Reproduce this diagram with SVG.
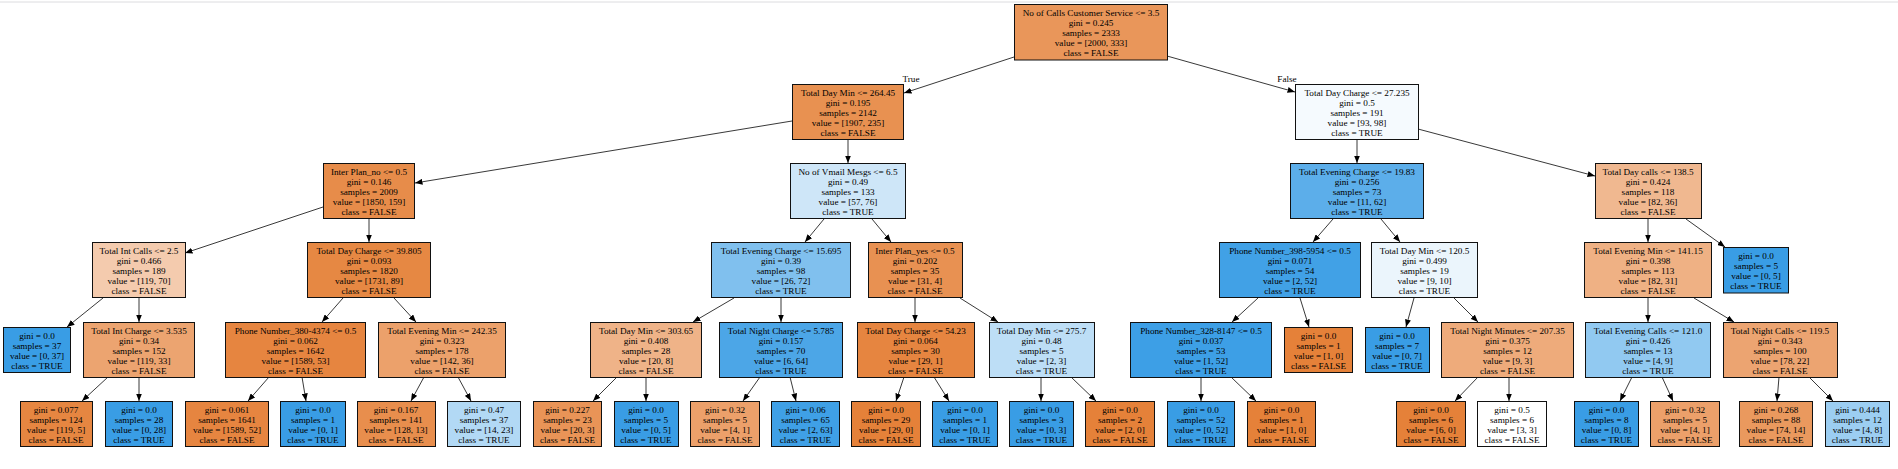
<svg xmlns="http://www.w3.org/2000/svg" width="1898" height="469" viewBox="0 0 1898 469">
<style>
text{font-family:"Liberation Serif","Times New Roman",serif;font-size:9.2px;fill:#000;text-anchor:middle}
.n rect{stroke:#111;stroke-width:1}
.e line{stroke:#222;stroke-width:0.9;marker-end:url(#ah)}
</style>
<defs>
<marker id="ah" markerUnits="userSpaceOnUse" markerWidth="8" markerHeight="6" refX="7.5" refY="3" orient="auto">
<path d="M0,0 L7.5,3 L0,6 z" fill="#000"/>
</marker>
</defs>
<rect x="0" y="0" width="1898" height="469" fill="#fff"/>
<line x1="0" y1="2" x2="1898" y2="2" stroke="#dcdcdf" stroke-width="1"/>
<g id="connectors" class="e">
<line x1="1014" y1="57" x2="904" y2="93"/>
<line x1="1167" y1="56" x2="1295" y2="92"/>
<line x1="792" y1="121" x2="415" y2="183"/>
<line x1="848" y1="139" x2="848" y2="163"/>
<line x1="323" y1="207" x2="185" y2="253"/>
<line x1="369" y1="219" x2="369" y2="242"/>
<line x1="1357" y1="139" x2="1357" y2="163"/>
<line x1="1418" y1="129" x2="1595" y2="176"/>
<line x1="824" y1="219" x2="805" y2="242"/>
<line x1="872" y1="219" x2="891" y2="242"/>
<line x1="1333" y1="219" x2="1313" y2="242"/>
<line x1="1381" y1="219" x2="1400" y2="242"/>
<line x1="1648" y1="219" x2="1648" y2="242"/>
<line x1="1686" y1="219" x2="1725" y2="247"/>
<line x1="103" y1="298" x2="67" y2="327"/>
<line x1="139" y1="298" x2="139" y2="322"/>
<line x1="343" y1="298" x2="322" y2="322"/>
<line x1="394" y1="298" x2="416" y2="322"/>
<line x1="734" y1="298" x2="693" y2="322"/>
<line x1="781" y1="298" x2="781" y2="322"/>
<line x1="915" y1="298" x2="915" y2="322"/>
<line x1="960" y1="298" x2="998" y2="322"/>
<line x1="1258" y1="298" x2="1232" y2="322"/>
<line x1="1300" y1="298" x2="1309" y2="327"/>
<line x1="1414" y1="298" x2="1406" y2="327"/>
<line x1="1454" y1="298" x2="1478" y2="322"/>
<line x1="1648" y1="298" x2="1648" y2="322"/>
<line x1="1694" y1="298" x2="1734" y2="322"/>
<line x1="108" y1="377" x2="82" y2="401"/>
<line x1="139" y1="377" x2="139" y2="401"/>
<line x1="269" y1="377" x2="248" y2="401"/>
<line x1="302" y1="377" x2="306" y2="401"/>
<line x1="424" y1="377" x2="411" y2="401"/>
<line x1="458" y1="377" x2="471" y2="401"/>
<line x1="617" y1="377" x2="593" y2="401"/>
<line x1="646" y1="377" x2="646" y2="401"/>
<line x1="760" y1="377" x2="743" y2="401"/>
<line x1="790" y1="377" x2="796" y2="401"/>
<line x1="904" y1="377" x2="896" y2="401"/>
<line x1="934" y1="377" x2="949" y2="401"/>
<line x1="1041" y1="377" x2="1041" y2="401"/>
<line x1="1071" y1="377" x2="1096" y2="401"/>
<line x1="1201" y1="377" x2="1201" y2="401"/>
<line x1="1231" y1="377" x2="1256" y2="401"/>
<line x1="1478" y1="377" x2="1455" y2="401"/>
<line x1="1509" y1="377" x2="1509" y2="401"/>
<line x1="1632" y1="377" x2="1620" y2="401"/>
<line x1="1662" y1="377" x2="1673" y2="401"/>
<line x1="1779" y1="377" x2="1777" y2="401"/>
<line x1="1809" y1="377" x2="1833" y2="401"/>
<text x="911" y="82">True</text>
<text x="1287" y="82">False</text>
</g>
<g id="n0" class="n"><rect x="1014.5" y="4.5" width="153" height="55.5" fill="#e9965a"/><text x="1091" y="15.5">No of Calls Customer Service &lt;= 3.5</text><text x="1091" y="25.5">gini = 0.245</text><text x="1091" y="35.5">samples = 2333</text><text x="1091" y="45.5">value = [2000, 333]</text><text x="1091" y="55.5">class = FALSE</text></g>
<g id="n1" class="n"><rect x="792.5" y="84.5" width="111" height="55" fill="#e89151"/><text x="848" y="95.5">Total Day Min &lt;= 264.45</text><text x="848" y="105.5">gini = 0.195</text><text x="848" y="115.5">samples = 2142</text><text x="848" y="125.5">value = [1907, 235]</text><text x="848" y="135.5">class = FALSE</text></g>
<g id="n2" class="n"><rect x="1295.5" y="84.5" width="123" height="55" fill="#f5fafe"/><text x="1357" y="95.5">Total Day Charge &lt;= 27.235</text><text x="1357" y="105.5">gini = 0.5</text><text x="1357" y="115.5">samples = 191</text><text x="1357" y="125.5">value = [93, 98]</text><text x="1357" y="135.5">class = TRUE</text></g>
<g id="n3" class="n"><rect x="323.5" y="163.5" width="91" height="55" fill="#e78c4a"/><text x="369" y="174.5">Inter Plan_no &lt;= 0.5</text><text x="369" y="184.5">gini = 0.146</text><text x="369" y="194.5">samples = 2009</text><text x="369" y="204.5">value = [1850, 159]</text><text x="369" y="214.5">class = FALSE</text></g>
<g id="n4" class="n"><rect x="790.5" y="163.5" width="115" height="55" fill="#cee6f8"/><text x="848" y="174.5">No of Vmail Mesgs &lt;= 6.5</text><text x="848" y="184.5">gini = 0.49</text><text x="848" y="194.5">samples = 133</text><text x="848" y="204.5">value = [57, 76]</text><text x="848" y="214.5">class = TRUE</text></g>
<g id="n5" class="n"><rect x="1290.5" y="163.5" width="133" height="55" fill="#5caeea"/><text x="1357" y="174.5">Total Evening Charge &lt;= 19.83</text><text x="1357" y="184.5">gini = 0.256</text><text x="1357" y="194.5">samples = 73</text><text x="1357" y="204.5">value = [11, 62]</text><text x="1357" y="214.5">class = TRUE</text></g>
<g id="n6" class="n"><rect x="1595.5" y="163.5" width="106" height="55" fill="#f0b890"/><text x="1648" y="174.5">Total Day calls &lt;= 138.5</text><text x="1648" y="184.5">gini = 0.424</text><text x="1648" y="194.5">samples = 118</text><text x="1648" y="204.5">value = [82, 36]</text><text x="1648" y="214.5">class = FALSE</text></g>
<g id="n7" class="n"><rect x="92.5" y="242.5" width="93" height="55" fill="#f4cbae"/><text x="139" y="253.5">Total Int Calls &lt;= 2.5</text><text x="139" y="263.5">gini = 0.466</text><text x="139" y="273.5">samples = 189</text><text x="139" y="283.5">value = [119, 70]</text><text x="139" y="293.5">class = FALSE</text></g>
<g id="n8" class="n"><rect x="307.5" y="242.5" width="123" height="55" fill="#e68843"/><text x="369" y="253.5">Total Day Charge &lt;= 39.805</text><text x="369" y="263.5">gini = 0.093</text><text x="369" y="273.5">samples = 1820</text><text x="369" y="283.5">value = [1731, 89]</text><text x="369" y="293.5">class = FALSE</text></g>
<g id="n9" class="n"><rect x="711.5" y="242.5" width="139" height="55" fill="#80c0ee"/><text x="781" y="253.5">Total Evening Charge &lt;= 15.695</text><text x="781" y="263.5">gini = 0.39</text><text x="781" y="273.5">samples = 98</text><text x="781" y="283.5">value = [26, 72]</text><text x="781" y="293.5">class = TRUE</text></g>
<g id="n10" class="n"><rect x="868.5" y="242.5" width="94" height="55" fill="#e89152"/><text x="915" y="253.5">Inter Plan_yes &lt;= 0.5</text><text x="915" y="263.5">gini = 0.202</text><text x="915" y="273.5">samples = 35</text><text x="915" y="283.5">value = [31, 4]</text><text x="915" y="293.5">class = FALSE</text></g>
<g id="n11" class="n"><rect x="1219.5" y="242.5" width="141" height="55" fill="#41a1e6"/><text x="1290" y="253.5">Phone Number_398-5954 &lt;= 0.5</text><text x="1290" y="263.5">gini = 0.071</text><text x="1290" y="273.5">samples = 54</text><text x="1290" y="283.5">value = [2, 52]</text><text x="1290" y="293.5">class = TRUE</text></g>
<g id="n12" class="n"><rect x="1371.5" y="242.5" width="106" height="55" fill="#ebf5fc"/><text x="1424.5" y="253.5">Total Day Min &lt;= 120.5</text><text x="1424.5" y="263.5">gini = 0.499</text><text x="1424.5" y="273.5">samples = 19</text><text x="1424.5" y="283.5">value = [9, 10]</text><text x="1424.5" y="293.5">class = TRUE</text></g>
<g id="n13" class="n"><rect x="1584.5" y="242.5" width="127" height="55" fill="#efb184"/><text x="1648" y="253.5">Total Evening Min &lt;= 141.15</text><text x="1648" y="263.5">gini = 0.398</text><text x="1648" y="273.5">samples = 113</text><text x="1648" y="283.5">value = [82, 31]</text><text x="1648" y="293.5">class = FALSE</text></g>
<g id="n14" class="n"><rect x="1723.5" y="247.5" width="65" height="45.5" fill="#399de5"/><text x="1756" y="258.5">gini = 0.0</text><text x="1756" y="268.5">samples = 5</text><text x="1756" y="278.5">value = [0, 5]</text><text x="1756" y="288.5">class = TRUE</text></g>
<g id="n15" class="n"><rect x="3.5" y="327.5" width="67" height="45" fill="#399de5"/><text x="37" y="338.5">gini = 0.0</text><text x="37" y="348.5">samples = 37</text><text x="37" y="358.5">value = [0, 37]</text><text x="37" y="368.5">class = TRUE</text></g>
<g id="n16" class="n"><rect x="83.5" y="322.5" width="111" height="55" fill="#eca470"/><text x="139" y="333.5">Total Int Charge &lt;= 3.535</text><text x="139" y="343.5">gini = 0.34</text><text x="139" y="353.5">samples = 152</text><text x="139" y="363.5">value = [119, 33]</text><text x="139" y="373.5">class = FALSE</text></g>
<g id="n17" class="n"><rect x="225.5" y="322.5" width="140" height="55" fill="#e68540"/><text x="295.5" y="333.5">Phone Number_380-4374 &lt;= 0.5</text><text x="295.5" y="343.5">gini = 0.062</text><text x="295.5" y="353.5">samples = 1642</text><text x="295.5" y="363.5">value = [1589, 53]</text><text x="295.5" y="373.5">class = FALSE</text></g>
<g id="n18" class="n"><rect x="378.5" y="322.5" width="127" height="55" fill="#eca16b"/><text x="442" y="333.5">Total Evening Min &lt;= 242.35</text><text x="442" y="343.5">gini = 0.323</text><text x="442" y="353.5">samples = 178</text><text x="442" y="363.5">value = [142, 36]</text><text x="442" y="373.5">class = FALSE</text></g>
<g id="n19" class="n"><rect x="590.5" y="322.5" width="111" height="55" fill="#efb388"/><text x="646" y="333.5">Total Day Min &lt;= 303.65</text><text x="646" y="343.5">gini = 0.408</text><text x="646" y="353.5">samples = 28</text><text x="646" y="363.5">value = [20, 8]</text><text x="646" y="373.5">class = FALSE</text></g>
<g id="n20" class="n"><rect x="719.5" y="322.5" width="123" height="55" fill="#4ca6e7"/><text x="781" y="333.5">Total Night Charge &lt;= 5.785</text><text x="781" y="343.5">gini = 0.157</text><text x="781" y="353.5">samples = 70</text><text x="781" y="363.5">value = [6, 64]</text><text x="781" y="373.5">class = TRUE</text></g>
<g id="n21" class="n"><rect x="857.5" y="322.5" width="117" height="55" fill="#e68540"/><text x="915.5" y="333.5">Total Day Charge &lt;= 54.23</text><text x="915.5" y="343.5">gini = 0.064</text><text x="915.5" y="353.5">samples = 30</text><text x="915.5" y="363.5">value = [29, 1]</text><text x="915.5" y="373.5">class = FALSE</text></g>
<g id="n22" class="n"><rect x="989.5" y="322.5" width="105" height="55" fill="#bddef6"/><text x="1041.5" y="333.5">Total Day Min &lt;= 275.7</text><text x="1041.5" y="343.5">gini = 0.48</text><text x="1041.5" y="353.5">samples = 5</text><text x="1041.5" y="363.5">value = [2, 3]</text><text x="1041.5" y="373.5">class = TRUE</text></g>
<g id="n23" class="n"><rect x="1130.5" y="322.5" width="141" height="55" fill="#3d9fe6"/><text x="1201" y="333.5">Phone Number_328-8147 &lt;= 0.5</text><text x="1201" y="343.5">gini = 0.037</text><text x="1201" y="353.5">samples = 53</text><text x="1201" y="363.5">value = [1, 52]</text><text x="1201" y="373.5">class = TRUE</text></g>
<g id="n24" class="n"><rect x="1284.5" y="327.5" width="68" height="45" fill="#e58139"/><text x="1318.5" y="338.5">gini = 0.0</text><text x="1318.5" y="348.5">samples = 1</text><text x="1318.5" y="358.5">value = [1, 0]</text><text x="1318.5" y="368.5">class = FALSE</text></g>
<g id="n25" class="n"><rect x="1365.5" y="327.5" width="64" height="45" fill="#399de5"/><text x="1397" y="338.5">gini = 0.0</text><text x="1397" y="348.5">samples = 7</text><text x="1397" y="358.5">value = [0, 7]</text><text x="1397" y="368.5">class = TRUE</text></g>
<g id="n26" class="n"><rect x="1441.5" y="322.5" width="132" height="55" fill="#eeab7b"/><text x="1507.5" y="333.5">Total Night Minutes &lt;= 207.35</text><text x="1507.5" y="343.5">gini = 0.375</text><text x="1507.5" y="353.5">samples = 12</text><text x="1507.5" y="363.5">value = [9, 3]</text><text x="1507.5" y="373.5">class = FALSE</text></g>
<g id="n27" class="n"><rect x="1585.5" y="322.5" width="125" height="55" fill="#91c9f1"/><text x="1648" y="333.5">Total Evening Calls &lt;= 121.0</text><text x="1648" y="343.5">gini = 0.426</text><text x="1648" y="353.5">samples = 13</text><text x="1648" y="363.5">value = [4, 9]</text><text x="1648" y="373.5">class = TRUE</text></g>
<g id="n28" class="n"><rect x="1723.5" y="322.5" width="114" height="55" fill="#eca471"/><text x="1780" y="333.5">Total Night Calls &lt;= 119.5</text><text x="1780" y="343.5">gini = 0.343</text><text x="1780" y="353.5">samples = 100</text><text x="1780" y="363.5">value = [78, 22]</text><text x="1780" y="373.5">class = FALSE</text></g>
<g id="n29" class="n"><rect x="20.5" y="401.5" width="72" height="45" fill="#e68641"/><text x="56" y="412.5">gini = 0.077</text><text x="56" y="422.5">samples = 124</text><text x="56" y="432.5">value = [119, 5]</text><text x="56" y="442.5">class = FALSE</text></g>
<g id="n30" class="n"><rect x="105.5" y="401.5" width="67" height="45" fill="#399de5"/><text x="139" y="412.5">gini = 0.0</text><text x="139" y="422.5">samples = 28</text><text x="139" y="432.5">value = [0, 28]</text><text x="139" y="442.5">class = TRUE</text></g>
<g id="n31" class="n"><rect x="185.5" y="401.5" width="83" height="45" fill="#e68540"/><text x="227" y="412.5">gini = 0.061</text><text x="227" y="422.5">samples = 1641</text><text x="227" y="432.5">value = [1589, 52]</text><text x="227" y="442.5">class = FALSE</text></g>
<g id="n32" class="n"><rect x="280.5" y="401.5" width="65" height="45" fill="#399de5"/><text x="313" y="412.5">gini = 0.0</text><text x="313" y="422.5">samples = 1</text><text x="313" y="432.5">value = [0, 1]</text><text x="313" y="442.5">class = TRUE</text></g>
<g id="n33" class="n"><rect x="357.5" y="401.5" width="78" height="45" fill="#e88e4d"/><text x="396" y="412.5">gini = 0.167</text><text x="396" y="422.5">samples = 141</text><text x="396" y="432.5">value = [128, 13]</text><text x="396" y="442.5">class = FALSE</text></g>
<g id="n34" class="n"><rect x="447.5" y="401.5" width="73" height="45" fill="#b2d9f5"/><text x="484" y="412.5">gini = 0.47</text><text x="484" y="422.5">samples = 37</text><text x="484" y="432.5">value = [14, 23]</text><text x="484" y="442.5">class = TRUE</text></g>
<g id="n35" class="n"><rect x="533.5" y="401.5" width="68" height="45" fill="#e99457"/><text x="567.5" y="412.5">gini = 0.227</text><text x="567.5" y="422.5">samples = 23</text><text x="567.5" y="432.5">value = [20, 3]</text><text x="567.5" y="442.5">class = FALSE</text></g>
<g id="n36" class="n"><rect x="614.5" y="401.5" width="64" height="45" fill="#399de5"/><text x="646" y="412.5">gini = 0.0</text><text x="646" y="422.5">samples = 5</text><text x="646" y="432.5">value = [0, 5]</text><text x="646" y="442.5">class = TRUE</text></g>
<g id="n37" class="n"><rect x="690.5" y="401.5" width="69" height="45" fill="#eca06a"/><text x="725" y="412.5">gini = 0.32</text><text x="725" y="422.5">samples = 5</text><text x="725" y="432.5">value = [4, 1]</text><text x="725" y="442.5">class = FALSE</text></g>
<g id="n38" class="n"><rect x="771.5" y="401.5" width="68" height="45" fill="#3fa0e6"/><text x="805.5" y="412.5">gini = 0.06</text><text x="805.5" y="422.5">samples = 65</text><text x="805.5" y="432.5">value = [2, 63]</text><text x="805.5" y="442.5">class = TRUE</text></g>
<g id="n39" class="n"><rect x="851.5" y="401.5" width="69" height="45" fill="#e58139"/><text x="886" y="412.5">gini = 0.0</text><text x="886" y="422.5">samples = 29</text><text x="886" y="432.5">value = [29, 0]</text><text x="886" y="442.5">class = FALSE</text></g>
<g id="n40" class="n"><rect x="932.5" y="401.5" width="65" height="45" fill="#399de5"/><text x="965" y="412.5">gini = 0.0</text><text x="965" y="422.5">samples = 1</text><text x="965" y="432.5">value = [0, 1]</text><text x="965" y="442.5">class = TRUE</text></g>
<g id="n41" class="n"><rect x="1009.5" y="401.5" width="64" height="45" fill="#399de5"/><text x="1041.5" y="412.5">gini = 0.0</text><text x="1041.5" y="422.5">samples = 3</text><text x="1041.5" y="432.5">value = [0, 3]</text><text x="1041.5" y="442.5">class = TRUE</text></g>
<g id="n42" class="n"><rect x="1085.5" y="401.5" width="69" height="45" fill="#e58139"/><text x="1120" y="412.5">gini = 0.0</text><text x="1120" y="422.5">samples = 2</text><text x="1120" y="432.5">value = [2, 0]</text><text x="1120" y="442.5">class = FALSE</text></g>
<g id="n43" class="n"><rect x="1167.5" y="401.5" width="67" height="45" fill="#399de5"/><text x="1201" y="412.5">gini = 0.0</text><text x="1201" y="422.5">samples = 52</text><text x="1201" y="432.5">value = [0, 52]</text><text x="1201" y="442.5">class = TRUE</text></g>
<g id="n44" class="n"><rect x="1247.5" y="401.5" width="68" height="45" fill="#e58139"/><text x="1281.5" y="412.5">gini = 0.0</text><text x="1281.5" y="422.5">samples = 1</text><text x="1281.5" y="432.5">value = [1, 0]</text><text x="1281.5" y="442.5">class = FALSE</text></g>
<g id="n45" class="n"><rect x="1396.5" y="401.5" width="69" height="45" fill="#e58139"/><text x="1431" y="412.5">gini = 0.0</text><text x="1431" y="422.5">samples = 6</text><text x="1431" y="432.5">value = [6, 0]</text><text x="1431" y="442.5">class = FALSE</text></g>
<g id="n46" class="n"><rect x="1477.5" y="401.5" width="69" height="45" fill="#ffffff"/><text x="1512" y="412.5">gini = 0.5</text><text x="1512" y="422.5">samples = 6</text><text x="1512" y="432.5">value = [3, 3]</text><text x="1512" y="442.5">class = FALSE</text></g>
<g id="n47" class="n"><rect x="1574.5" y="401.5" width="64" height="45" fill="#399de5"/><text x="1606.5" y="412.5">gini = 0.0</text><text x="1606.5" y="422.5">samples = 8</text><text x="1606.5" y="432.5">value = [0, 8]</text><text x="1606.5" y="442.5">class = TRUE</text></g>
<g id="n48" class="n"><rect x="1650.5" y="401.5" width="69" height="45" fill="#eca06a"/><text x="1685" y="412.5">gini = 0.32</text><text x="1685" y="422.5">samples = 5</text><text x="1685" y="432.5">value = [4, 1]</text><text x="1685" y="442.5">class = FALSE</text></g>
<g id="n49" class="n"><rect x="1739.5" y="401.5" width="73" height="45" fill="#ea995e"/><text x="1776" y="412.5">gini = 0.268</text><text x="1776" y="422.5">samples = 88</text><text x="1776" y="432.5">value = [74, 14]</text><text x="1776" y="442.5">class = FALSE</text></g>
<g id="n50" class="n"><rect x="1825.5" y="401.5" width="64" height="45" fill="#9ccef2"/><text x="1857.5" y="412.5">gini = 0.444</text><text x="1857.5" y="422.5">samples = 12</text><text x="1857.5" y="432.5">value = [4, 8]</text><text x="1857.5" y="442.5">class = TRUE</text></g>
</svg>
